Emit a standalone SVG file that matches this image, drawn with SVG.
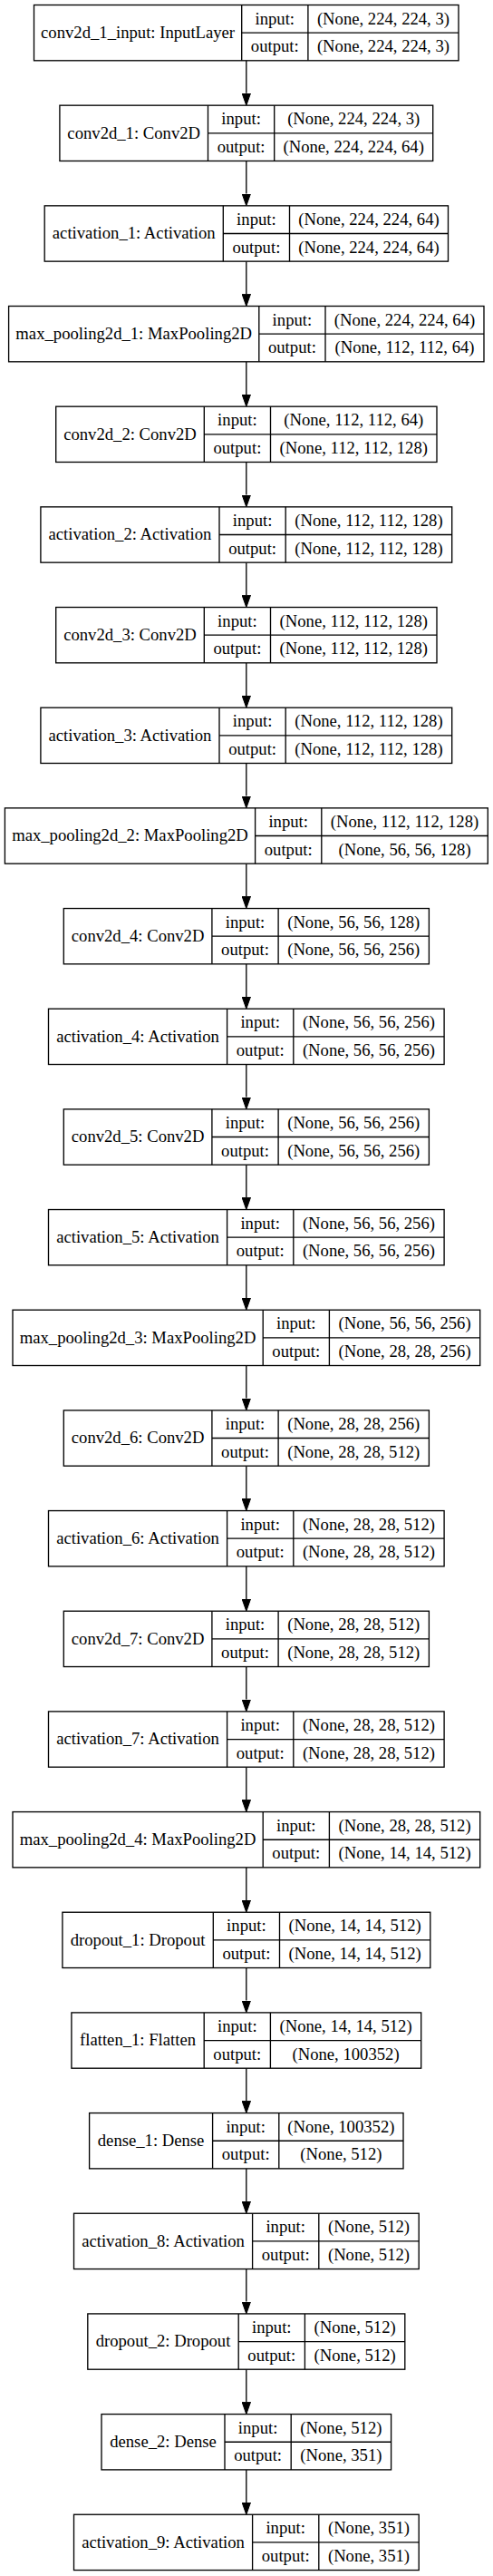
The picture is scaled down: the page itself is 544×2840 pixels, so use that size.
<svg xmlns="http://www.w3.org/2000/svg" width="544" height="2840" viewBox="0 0 544 2840">
<style>
.box{fill:#fff;stroke:#000;stroke-width:1.33}
.ln{fill:none;stroke:#000;stroke-width:1.33}
text{font-family:"Liberation Serif","Times New Roman",serif;font-size:18.67px;text-anchor:middle;fill:#000}
.edge{fill:none;stroke:#000;stroke-width:1.33}
</style>
<defs>
<marker id="ah" markerUnits="userSpaceOnUse" markerWidth="14" markerHeight="10" refX="0" refY="4.7" orient="auto" viewBox="0 0 14 9.4">
<path d="M0,0L13.3,4.7L0,9.4z" fill="#000" stroke="#000" stroke-width="1"/>
</marker>
</defs>
<rect width="544" height="2840" fill="#fff"/>
<g id="edges">
<path class="edge" marker-end="url(#ah)" d="M271.8,66.8V102.87"/>
<path class="edge" marker-end="url(#ah)" d="M271.8,177.47V213.54"/>
<path class="edge" marker-end="url(#ah)" d="M271.8,288.14V324.21"/>
<path class="edge" marker-end="url(#ah)" d="M271.8,398.81V434.88"/>
<path class="edge" marker-end="url(#ah)" d="M271.8,509.48V545.55"/>
<path class="edge" marker-end="url(#ah)" d="M271.8,620.15V656.22"/>
<path class="edge" marker-end="url(#ah)" d="M271.8,730.82V766.89"/>
<path class="edge" marker-end="url(#ah)" d="M271.8,841.49V877.56"/>
<path class="edge" marker-end="url(#ah)" d="M271.8,952.16V988.23"/>
<path class="edge" marker-end="url(#ah)" d="M271.8,1062.83V1098.9"/>
<path class="edge" marker-end="url(#ah)" d="M271.8,1173.5V1209.57"/>
<path class="edge" marker-end="url(#ah)" d="M271.8,1284.17V1320.24"/>
<path class="edge" marker-end="url(#ah)" d="M271.8,1394.84V1430.91"/>
<path class="edge" marker-end="url(#ah)" d="M271.8,1505.51V1541.58"/>
<path class="edge" marker-end="url(#ah)" d="M271.8,1616.18V1652.25"/>
<path class="edge" marker-end="url(#ah)" d="M271.8,1726.85V1762.92"/>
<path class="edge" marker-end="url(#ah)" d="M271.8,1837.52V1873.59"/>
<path class="edge" marker-end="url(#ah)" d="M271.8,1948.19V1984.26"/>
<path class="edge" marker-end="url(#ah)" d="M271.8,2058.86V2094.93"/>
<path class="edge" marker-end="url(#ah)" d="M271.8,2169.53V2205.6"/>
<path class="edge" marker-end="url(#ah)" d="M271.8,2280.2V2316.27"/>
<path class="edge" marker-end="url(#ah)" d="M271.8,2390.87V2426.94"/>
<path class="edge" marker-end="url(#ah)" d="M271.8,2501.54V2537.61"/>
<path class="edge" marker-end="url(#ah)" d="M271.8,2612.21V2648.28"/>
<path class="edge" marker-end="url(#ah)" d="M271.8,2722.88V2758.95"/>
</g>

<g id="conv2d_1_input" transform="translate(37.5,5.5)">
<rect class="box" width="468.5" height="61.3"/>
<path class="ln" d="M229.2,0V61.3M302.4,0V61.3M229.2,30.65H468.5"/>
<text x="114.6" y="36.5">conv2d_1_input: InputLayer</text>
<text x="265.8" y="21.1">input:</text><text x="265.8" y="51.8">output:</text>
<text x="385.45" y="21.1">(None, 224, 224, 3)</text><text x="385.45" y="51.8">(None, 224, 224, 3)</text>
</g>

<g id="conv2d_1" transform="translate(65.9,116.17)">
<rect class="box" width="411.8" height="61.3"/>
<path class="ln" d="M163.6,0V61.3M236.8,0V61.3M163.6,30.65H411.8"/>
<text x="81.8" y="36.5">conv2d_1: Conv2D</text>
<text x="200.2" y="21.1">input:</text><text x="200.2" y="51.8">output:</text>
<text x="324.3" y="21.1">(None, 224, 224, 3)</text><text x="324.3" y="51.8">(None, 224, 224, 64)</text>
</g>

<g id="activation_1" transform="translate(49.2,226.84)">
<rect class="box" width="445.3" height="61.3"/>
<path class="ln" d="M197.1,0V61.3M270.3,0V61.3M197.1,30.65H445.3"/>
<text x="98.55" y="36.5">activation_1: Activation</text>
<text x="233.7" y="21.1">input:</text><text x="233.7" y="51.8">output:</text>
<text x="357.8" y="21.1">(None, 224, 224, 64)</text><text x="357.8" y="51.8">(None, 224, 224, 64)</text>
</g>

<g id="max_pooling2d_1" transform="translate(9.6,337.51)">
<rect class="box" width="524.4" height="61.3"/>
<path class="ln" d="M276.2,0V61.3M349.4,0V61.3M276.2,30.65H524.4"/>
<text x="138.1" y="36.5">max_pooling2d_1: MaxPooling2D</text>
<text x="312.8" y="21.1">input:</text><text x="312.8" y="51.8">output:</text>
<text x="436.9" y="21.1">(None, 224, 224, 64)</text><text x="436.9" y="51.8">(None, 112, 112, 64)</text>
</g>

<g id="conv2d_2" transform="translate(61.7,448.18)">
<rect class="box" width="420.3" height="61.3"/>
<path class="ln" d="M163.6,0V61.3M236.8,0V61.3M163.6,30.65H420.3"/>
<text x="81.8" y="36.5">conv2d_2: Conv2D</text>
<text x="200.2" y="21.1">input:</text><text x="200.2" y="51.8">output:</text>
<text x="328.55" y="21.1">(None, 112, 112, 64)</text><text x="328.55" y="51.8">(None, 112, 112, 128)</text>
</g>

<g id="activation_2" transform="translate(44.9,558.85)">
<rect class="box" width="453.8" height="61.3"/>
<path class="ln" d="M197.1,0V61.3M270.3,0V61.3M197.1,30.65H453.8"/>
<text x="98.55" y="36.5">activation_2: Activation</text>
<text x="233.7" y="21.1">input:</text><text x="233.7" y="51.8">output:</text>
<text x="362.05" y="21.1">(None, 112, 112, 128)</text><text x="362.05" y="51.8">(None, 112, 112, 128)</text>
</g>

<g id="conv2d_3" transform="translate(61.7,669.52)">
<rect class="box" width="420.3" height="61.3"/>
<path class="ln" d="M163.6,0V61.3M236.8,0V61.3M163.6,30.65H420.3"/>
<text x="81.8" y="36.5">conv2d_3: Conv2D</text>
<text x="200.2" y="21.1">input:</text><text x="200.2" y="51.8">output:</text>
<text x="328.55" y="21.1">(None, 112, 112, 128)</text><text x="328.55" y="51.8">(None, 112, 112, 128)</text>
</g>

<g id="activation_3" transform="translate(44.9,780.19)">
<rect class="box" width="453.8" height="61.3"/>
<path class="ln" d="M197.1,0V61.3M270.3,0V61.3M197.1,30.65H453.8"/>
<text x="98.55" y="36.5">activation_3: Activation</text>
<text x="233.7" y="21.1">input:</text><text x="233.7" y="51.8">output:</text>
<text x="362.05" y="21.1">(None, 112, 112, 128)</text><text x="362.05" y="51.8">(None, 112, 112, 128)</text>
</g>

<g id="max_pooling2d_2" transform="translate(5.4,890.86)">
<rect class="box" width="532.9" height="61.3"/>
<path class="ln" d="M276.2,0V61.3M349.4,0V61.3M276.2,30.65H532.9"/>
<text x="138.1" y="36.5">max_pooling2d_2: MaxPooling2D</text>
<text x="312.8" y="21.1">input:</text><text x="312.8" y="51.8">output:</text>
<text x="441.15" y="21.1">(None, 112, 112, 128)</text><text x="441.15" y="51.8">(None, 56, 56, 128)</text>
</g>

<g id="conv2d_4" transform="translate(70.3,1001.53)">
<rect class="box" width="403.1" height="61.3"/>
<path class="ln" d="M163.6,0V61.3M236.8,0V61.3M163.6,30.65H403.1"/>
<text x="81.8" y="36.5">conv2d_4: Conv2D</text>
<text x="200.2" y="21.1">input:</text><text x="200.2" y="51.8">output:</text>
<text x="319.95" y="21.1">(None, 56, 56, 128)</text><text x="319.95" y="51.8">(None, 56, 56, 256)</text>
</g>

<g id="activation_4" transform="translate(53.5,1112.2)">
<rect class="box" width="436.6" height="61.3"/>
<path class="ln" d="M197.1,0V61.3M270.3,0V61.3M197.1,30.65H436.6"/>
<text x="98.55" y="36.5">activation_4: Activation</text>
<text x="233.7" y="21.1">input:</text><text x="233.7" y="51.8">output:</text>
<text x="353.45" y="21.1">(None, 56, 56, 256)</text><text x="353.45" y="51.8">(None, 56, 56, 256)</text>
</g>

<g id="conv2d_5" transform="translate(70.3,1222.87)">
<rect class="box" width="403.1" height="61.3"/>
<path class="ln" d="M163.6,0V61.3M236.8,0V61.3M163.6,30.65H403.1"/>
<text x="81.8" y="36.5">conv2d_5: Conv2D</text>
<text x="200.2" y="21.1">input:</text><text x="200.2" y="51.8">output:</text>
<text x="319.95" y="21.1">(None, 56, 56, 256)</text><text x="319.95" y="51.8">(None, 56, 56, 256)</text>
</g>

<g id="activation_5" transform="translate(53.5,1333.54)">
<rect class="box" width="436.6" height="61.3"/>
<path class="ln" d="M197.1,0V61.3M270.3,0V61.3M197.1,30.65H436.6"/>
<text x="98.55" y="36.5">activation_5: Activation</text>
<text x="233.7" y="21.1">input:</text><text x="233.7" y="51.8">output:</text>
<text x="353.45" y="21.1">(None, 56, 56, 256)</text><text x="353.45" y="51.8">(None, 56, 56, 256)</text>
</g>

<g id="max_pooling2d_3" transform="translate(14,1444.21)">
<rect class="box" width="515.7" height="61.3"/>
<path class="ln" d="M276.2,0V61.3M349.4,0V61.3M276.2,30.65H515.7"/>
<text x="138.1" y="36.5">max_pooling2d_3: MaxPooling2D</text>
<text x="312.8" y="21.1">input:</text><text x="312.8" y="51.8">output:</text>
<text x="432.55" y="21.1">(None, 56, 56, 256)</text><text x="432.55" y="51.8">(None, 28, 28, 256)</text>
</g>

<g id="conv2d_6" transform="translate(70.3,1554.88)">
<rect class="box" width="403.1" height="61.3"/>
<path class="ln" d="M163.6,0V61.3M236.8,0V61.3M163.6,30.65H403.1"/>
<text x="81.8" y="36.5">conv2d_6: Conv2D</text>
<text x="200.2" y="21.1">input:</text><text x="200.2" y="51.8">output:</text>
<text x="319.95" y="21.1">(None, 28, 28, 256)</text><text x="319.95" y="51.8">(None, 28, 28, 512)</text>
</g>

<g id="activation_6" transform="translate(53.5,1665.55)">
<rect class="box" width="436.6" height="61.3"/>
<path class="ln" d="M197.1,0V61.3M270.3,0V61.3M197.1,30.65H436.6"/>
<text x="98.55" y="36.5">activation_6: Activation</text>
<text x="233.7" y="21.1">input:</text><text x="233.7" y="51.8">output:</text>
<text x="353.45" y="21.1">(None, 28, 28, 512)</text><text x="353.45" y="51.8">(None, 28, 28, 512)</text>
</g>

<g id="conv2d_7" transform="translate(70.3,1776.22)">
<rect class="box" width="403.1" height="61.3"/>
<path class="ln" d="M163.6,0V61.3M236.8,0V61.3M163.6,30.65H403.1"/>
<text x="81.8" y="36.5">conv2d_7: Conv2D</text>
<text x="200.2" y="21.1">input:</text><text x="200.2" y="51.8">output:</text>
<text x="319.95" y="21.1">(None, 28, 28, 512)</text><text x="319.95" y="51.8">(None, 28, 28, 512)</text>
</g>

<g id="activation_7" transform="translate(53.5,1886.89)">
<rect class="box" width="436.6" height="61.3"/>
<path class="ln" d="M197.1,0V61.3M270.3,0V61.3M197.1,30.65H436.6"/>
<text x="98.55" y="36.5">activation_7: Activation</text>
<text x="233.7" y="21.1">input:</text><text x="233.7" y="51.8">output:</text>
<text x="353.45" y="21.1">(None, 28, 28, 512)</text><text x="353.45" y="51.8">(None, 28, 28, 512)</text>
</g>

<g id="max_pooling2d_4" transform="translate(14,1997.56)">
<rect class="box" width="515.7" height="61.3"/>
<path class="ln" d="M276.2,0V61.3M349.4,0V61.3M276.2,30.65H515.7"/>
<text x="138.1" y="36.5">max_pooling2d_4: MaxPooling2D</text>
<text x="312.8" y="21.1">input:</text><text x="312.8" y="51.8">output:</text>
<text x="432.55" y="21.1">(None, 28, 28, 512)</text><text x="432.55" y="51.8">(None, 14, 14, 512)</text>
</g>

<g id="dropout_1" transform="translate(68.9,2108.23)">
<rect class="box" width="405.9" height="61.3"/>
<path class="ln" d="M166.4,0V61.3M239.6,0V61.3M166.4,30.65H405.9"/>
<text x="83.2" y="36.5">dropout_1: Dropout</text>
<text x="203" y="21.1">input:</text><text x="203" y="51.8">output:</text>
<text x="322.75" y="21.1">(None, 14, 14, 512)</text><text x="322.75" y="51.8">(None, 14, 14, 512)</text>
</g>

<g id="flatten_1" transform="translate(78.9,2218.9)">
<rect class="box" width="385.8" height="61.3"/>
<path class="ln" d="M146.3,0V61.3M219.5,0V61.3M146.3,30.65H385.8"/>
<text x="73.15" y="36.5">flatten_1: Flatten</text>
<text x="182.9" y="21.1">input:</text><text x="182.9" y="51.8">output:</text>
<text x="302.65" y="21.1">(None, 14, 14, 512)</text><text x="302.65" y="51.8">(None, 100352)</text>
</g>

<g id="dense_1" transform="translate(98.6,2329.57)">
<rect class="box" width="346.4" height="61.3"/>
<path class="ln" d="M136,0V61.3M209.2,0V61.3M136,30.65H346.4"/>
<text x="68" y="36.5">dense_1: Dense</text>
<text x="172.6" y="21.1">input:</text><text x="172.6" y="51.8">output:</text>
<text x="277.8" y="21.1">(None, 100352)</text><text x="277.8" y="51.8">(None, 512)</text>
</g>

<g id="activation_8" transform="translate(81.5,2440.24)">
<rect class="box" width="380.7" height="61.3"/>
<path class="ln" d="M197.1,0V61.3M270.3,0V61.3M197.1,30.65H380.7"/>
<text x="98.55" y="36.5">activation_8: Activation</text>
<text x="233.7" y="21.1">input:</text><text x="233.7" y="51.8">output:</text>
<text x="325.5" y="21.1">(None, 512)</text><text x="325.5" y="51.8">(None, 512)</text>
</g>

<g id="dropout_2" transform="translate(96.8,2550.91)">
<rect class="box" width="350" height="61.3"/>
<path class="ln" d="M166.4,0V61.3M239.6,0V61.3M166.4,30.65H350"/>
<text x="83.2" y="36.5">dropout_2: Dropout</text>
<text x="203" y="21.1">input:</text><text x="203" y="51.8">output:</text>
<text x="294.8" y="21.1">(None, 512)</text><text x="294.8" y="51.8">(None, 512)</text>
</g>

<g id="dense_2" transform="translate(112,2661.58)">
<rect class="box" width="319.6" height="61.3"/>
<path class="ln" d="M136,0V61.3M209.2,0V61.3M136,30.65H319.6"/>
<text x="68" y="36.5">dense_2: Dense</text>
<text x="172.6" y="21.1">input:</text><text x="172.6" y="51.8">output:</text>
<text x="264.4" y="21.1">(None, 512)</text><text x="264.4" y="51.8">(None, 351)</text>
</g>

<g id="activation_9" transform="translate(81.5,2772.25)">
<rect class="box" width="380.7" height="61.3"/>
<path class="ln" d="M197.1,0V61.3M270.3,0V61.3M197.1,30.65H380.7"/>
<text x="98.55" y="36.5">activation_9: Activation</text>
<text x="233.7" y="21.1">input:</text><text x="233.7" y="51.8">output:</text>
<text x="325.5" y="21.1">(None, 351)</text><text x="325.5" y="51.8">(None, 351)</text>
</g>
</svg>
